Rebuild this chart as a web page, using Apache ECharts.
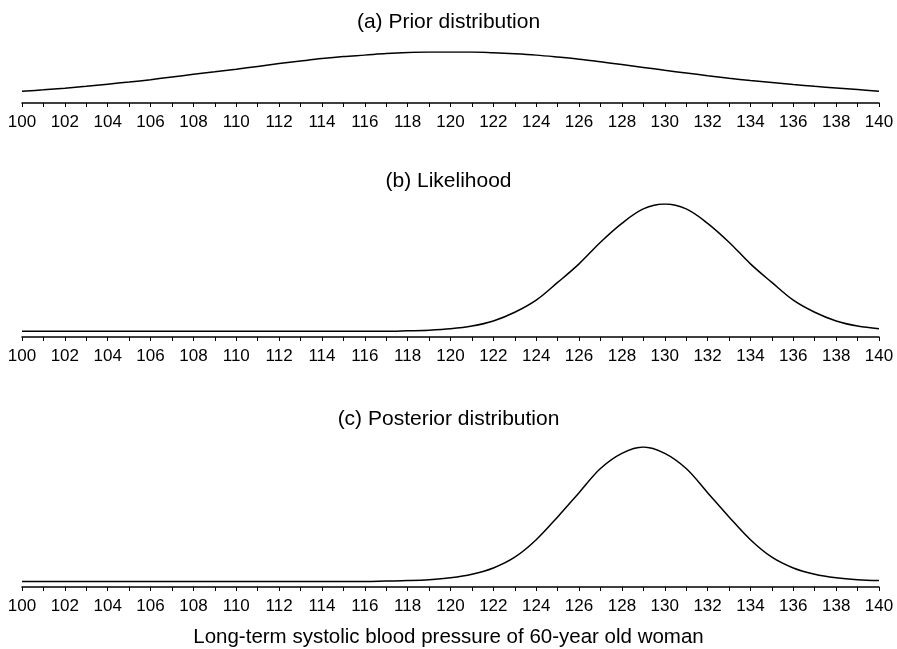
<!DOCTYPE html>
<html>
<head>
<meta charset="utf-8">
<script src="https://cdn.jsdelivr.net/npm/echarts@6/dist/echarts.min.js"></script>
<style>
html,body{margin:0;padding:0;background:#fff;}
#chart{width:897px;height:649px;}
</style>
</head>
<body>
<div id="chart"></div>
<script>
// Long-term systolic blood pressure (x values)
var bp = [100,101,102,103,104,105,106,107,108,109,110,111,112,113,114,115,116,117,118,119,120,
          121,122,123,124,125,126,127,128,129,130,131,132,133,134,135,136,137,138,139,140];

// (a) Prior distribution density
var prior = [0.0048,0.0061,0.0076,0.0093,0.0112,0.0131,0.0152,0.0176,0.0200,0.0222,0.0245,
             0.0271,0.0296,0.0319,0.0341,0.0359,0.0372,0.0386,0.0395,0.0399,0.0399,
             0.0399,0.0393,0.0384,0.0372,0.0355,0.0336,0.0312,0.0287,0.0262,0.0236,
             0.0212,0.0188,0.0165,0.0144,0.0126,0.0108,0.0092,0.0078,0.0063,0.0048];

// (b) Likelihood
var likelihood = [0,0,0,0,0,0,0,0,0,0,0,
                  0,0,0,0,0,0,0,0.0005,0.0011,0.0024,
                  0.0050,0.0098,0.0180,0.0294,0.0461,0.0636,0.0840,0.1018,0.1154,0.1200,
                  0.1154,0.1018,0.0840,0.0636,0.0461,0.0294,0.0180,0.0098,0.0050,0.0024];

// (c) Posterior distribution
var posterior = [0,0,0,0,0,0,0,0,0,0,0,
                 0,0,0,0,0,0,0.0004,0.0008,0.0016,0.0034,
                 0.0067,0.0126,0.0227,0.0391,0.0605,0.0832,0.1058,0.1200,0.1260,0.1200,
                 0.1058,0.0832,0.0605,0.0391,0.0227,0.0126,0.0067,0.0034,0.0016,0.0008];

var panelTitles = ['(a) Prior distribution', '(b) Likelihood', '(c) Posterior distribution'];
var xAxisTitle = 'Long-term systolic blood pressure of 60-year old woman';
var xMin = 100, xMax = 140, xStep = 2;

var FONT = '"Liberation Sans", Arial, Helvetica, sans-serif';
function pairs(ys){ return bp.map(function(x,i){ return [x, ys[i]]; }); }

var grids = [
  {left:22, right:18, top:52, height:51},
  {left:22, right:18, top:204, height:133},
  {left:22, right:18, top:447, height:140}
];
var yRanges = [[-0.0057,0.0400],[-0.0053,0.1200],[-0.0052,0.1260]];

var xAxes = grids.map(function(g,i){
  return {
    type:'value', gridIndex:i, min:xMin, max:xMax, interval:xStep,
    position:'bottom',
    axisLine:{show:true, onZero:false, lineStyle:{color:'#000', width:1.5}},
    axisTick:{show:true, inside:false, length:4, lineStyle:{color:'#000', width:1}},
    minorTick:{show:true, splitNumber:2, length:4, lineStyle:{color:'#000', width:1}},
    splitLine:{show:false}, minorSplitLine:{show:false},
    axisLabel:{show:true, color:'#000', fontSize:17, fontFamily:FONT, margin:11,
               showMinLabel:true, showMaxLabel:true}
  };
});
var yAxes = grids.map(function(g,i){
  return {type:'value', gridIndex:i, min:yRanges[i][0], max:yRanges[i][1], show:false,
          splitLine:{show:false}};
});
var seriesData = [prior, likelihood, posterior];
var series = seriesData.map(function(d,i){
  return {type:'line', xAxisIndex:i, yAxisIndex:i, data:pairs(d), showSymbol:false,
          smooth:0.35, lineStyle:{color:'#000', width:1.5}, silent:true, animation:false};
});

var titleCenters = [22, 181, 419];
var titles = panelTitles.map(function(t,i){
  return {text:t, left:'center', top:titleCenters[i]-10.5, padding:0,
          textStyle:{fontSize:21, lineHeight:21, fontWeight:'normal', color:'#000', fontFamily:FONT}};
});
titles.push({text:xAxisTitle, left:'center', top:637-10.5, padding:0,
             textStyle:{fontSize:20.5, lineHeight:21, fontWeight:'normal', color:'#000', fontFamily:FONT}});

var chart = echarts.init(document.getElementById('chart'), null, {renderer:'canvas'});
chart.setOption({
  backgroundColor:'#fff',
  animation:false,
  title:titles,
  grid:grids,
  xAxis:xAxes,
  yAxis:yAxes,
  series:series
});
</script>
</body>
</html>
